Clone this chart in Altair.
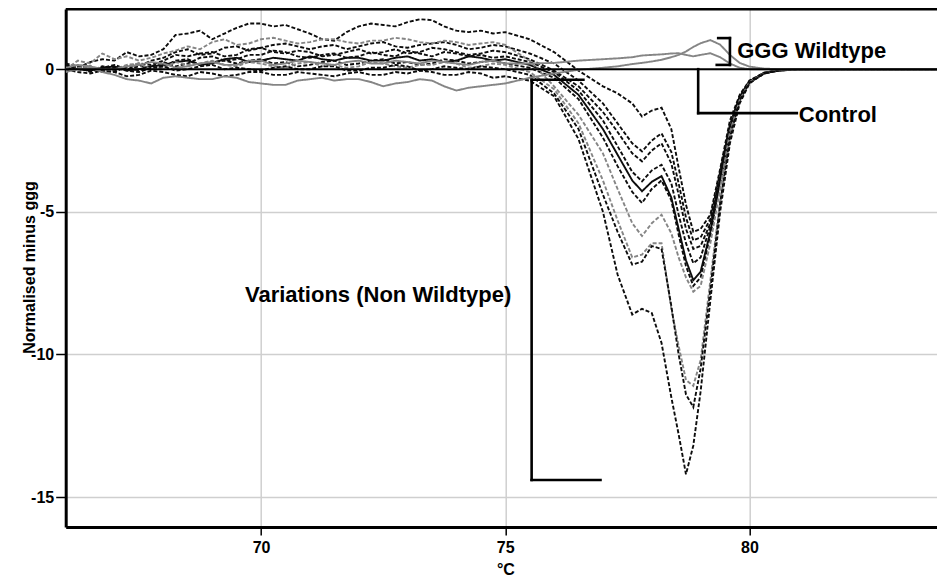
import altair as alt
import pandas as pd

# Temperature grid (°C) shared by every trace
T = [66.0, 66.25, 66.5, 66.75, 67.0, 67.25, 67.5, 67.75, 68.0, 68.25, 68.5, 68.75, 69.0, 69.25, 69.5, 69.75,
     70.0, 70.25, 70.5, 70.75, 71.0, 71.25, 71.5, 71.75, 72.0, 72.25, 72.5, 72.75, 73.0, 73.25, 73.5, 73.75,
     74.0, 74.25, 74.5, 74.75, 75.0,
     75.5, 76.0, 76.5, 77.0, 77.3, 77.6, 77.8, 78.0, 78.2, 78.4, 78.55, 78.7, 78.85, 79.0, 79.2, 79.4, 79.6, 79.8,
     80.0, 80.3, 80.6, 81.0, 82.0, 83.0, 84.0]

# Variations (non wildtype)
V1 = [0.1, 0.05, 0.25, 0.35, 0.3, 0.6, 0.45, 0.5, 0.7, 1.2, 1.25, 1.35, 1.05, 1.25, 1.45, 1.6, 1.6, 1.5, 1.55,
      1.4, 1.25, 1.05, 1.0, 1.3, 1.5, 1.6, 1.55, 1.5, 1.65, 1.75, 1.72, 1.5, 1.35, 1.3, 1.35, 1.25, 1.3,
      1.05, 0.6, -0.05, -0.6, -0.85, -1.2, -1.66, -1.45, -1.35, -2.1, -3.45, -4.75, -5.7, -5.6, -5.1, -3.5, -1.8, -0.9,
      -0.4, -0.12, -0.04, 0.0, 0.0, 0.0, 0.0]
V2 = [0.0, 0.1, -0.1, 0.05, 0.15, 0.0, 0.1, 0.3, 0.4, 0.6, 0.7, 0.5, 0.55, 0.75, 0.8, 0.65, 0.75, 0.85, 0.9,
      0.8, 0.7, 0.8, 0.85, 0.7, 0.8, 0.9, 0.95, 0.8, 0.75, 0.85, 0.9, 0.95, 0.85, 0.7, 0.75, 0.85, 0.8,
      0.55, 0.2, -0.4, -1.2, -1.9, -2.6, -2.88, -2.5, -2.25, -2.9, -4.0, -5.2, -6.0, -5.9, -5.25, -3.6, -1.95, -0.95,
      -0.42, -0.13, -0.04, 0.0, 0.0, 0.0, 0.0]
V3 = [0.15, 0.05, 0.0, -0.05, -0.1, 0.1, 0.2, 0.15, 0.3, 0.5, 0.45, 0.55, 0.6, 0.45, 0.5, 0.7, 0.75, 0.6, 0.55,
      0.65, 0.6, 0.45, 0.5, 0.6, 0.7, 0.55, 0.6, 0.7, 0.55, 0.6, 0.75, 0.7, 0.6, 0.5, 0.55, 0.65, 0.6,
      0.35, -0.05, -0.6, -1.5, -2.2, -2.95, -3.23, -2.85, -2.6, -3.3, -4.4, -5.6, -6.3, -6.2, -5.4, -3.7, -2.0, -1.0,
      -0.43, -0.13, -0.04, 0.0, 0.0, 0.0, 0.0]
V4 = [-0.1, 0.05, 0.1, -0.05, 0.05, 0.1, -0.05, 0.1, 0.25, 0.1, 0.2, 0.4, 0.45, 0.3, 0.35, 0.5, 0.5, 0.65, 0.6,
      0.45, 0.4, 0.5, 0.55, 0.4, 0.45, 0.6, 0.5, 0.45, 0.65, 0.55, 0.45, 0.6, 0.55, 0.45, 0.5, 0.4, 0.45,
      0.25, -0.1, -0.75, -1.8, -2.7, -3.6, -3.93, -3.55, -3.35, -4.0, -5.1, -6.1, -6.8, -6.6, -5.5, -3.8, -2.05, -1.0,
      -0.44, -0.14, -0.04, 0.0, 0.0, 0.0, 0.0]
V5 = [0.05, 0.0, -0.05, 0.05, 0.1, -0.05, 0.0, 0.1, 0.15, 0.25, 0.3, 0.15, 0.2, 0.35, 0.4, 0.25, 0.3, 0.4, 0.35,
      0.3, 0.45, 0.35, 0.3, 0.4, 0.4, 0.3, 0.3, 0.4, 0.45, 0.3, 0.35, 0.25, 0.3, 0.45, 0.4, 0.3, 0.35,
      0.15, -0.2, -0.9, -2.1, -3.0, -3.9, -4.28, -3.95, -3.75, -4.5, -5.6, -6.7, -7.4, -7.1, -5.7, -3.9, -2.1, -1.05,
      -0.45, -0.14, -0.04, 0.0, 0.0, 0.0, 0.0]
V6 = [0.2, 0.1, 0.05, -0.1, -0.05, 0.1, 0.15, 0.0, 0.1, 0.3, 0.35, 0.15, 0.25, 0.3, 0.2, 0.3, 0.35, 0.2, 0.25,
      0.1, 0.15, 0.25, 0.3, 0.15, 0.2, 0.3, 0.35, 0.2, 0.25, 0.15, 0.2, 0.35, 0.3, 0.2, 0.25, 0.3, 0.2,
      0.05, -0.3, -1.05, -2.4, -3.4, -4.3, -4.69, -4.2, -3.9, -4.6, -5.8, -6.9, -7.6, -7.3, -5.8, -4.0, -2.15, -1.05,
      -0.45, -0.14, -0.04, 0.0, 0.0, 0.0, 0.0]
V7 = [0.0, 0.3, 0.2, 0.55, 0.35, 0.45, 0.3, 0.4, 0.55, 0.65, 0.8, 0.7, 0.95, 1.05, 0.85, 0.9, 1.05, 1.1, 1.0,
      0.9, 0.95, 1.05, 1.05, 0.95, 0.9, 1.0, 1.0, 1.1, 1.05, 0.95, 0.9, 1.0, 0.95, 0.85, 0.9, 0.95, 0.85,
      0.3, -0.6, -1.6, -2.95, -4.2, -5.4, -5.85, -5.4, -5.1, -5.75, -6.6, -7.3, -7.8, -7.6, -6.1, -4.2, -2.2, -1.1,
      -0.46, -0.15, -0.05, 0.0, 0.0, 0.0, 0.0]
V8 = [-0.05, 0.05, 0.1, -0.05, 0.0, 0.15, 0.2, 0.0, 0.05, 0.25, 0.15, 0.2, 0.3, 0.15, 0.1, 0.25, 0.2, 0.1, 0.05,
      0.2, 0.25, 0.1, 0.15, 0.05, 0.1, 0.25, 0.2, 0.1, 0.05, 0.15, 0.15, 0.25, 0.2, 0.05, 0.1, 0.2, 0.15,
      -0.1, -0.7, -1.9, -3.9, -5.3, -6.6, -6.5, -6.1, -6.1, -8.4, -9.7, -10.9, -11.1, -10.2, -7.4, -4.6, -2.35, -1.1,
      -0.47, -0.15, -0.05, 0.0, 0.0, 0.0, 0.0]
V9 = [0.1, 0.0, -0.05, 0.1, 0.05, -0.05, -0.1, 0.05, 0.1, -0.05, 0.0, 0.1, 0.15, 0.0, 0.05, 0.0, -0.05, 0.05, 0.1,
      0.0, 0.0, 0.1, 0.1, -0.05, -0.05, 0.05, 0.05, 0.15, 0.1, -0.05, 0.0, 0.1, 0.05, 0.0, 0.1, 0.05, 0.0,
      -0.2, -0.85, -2.1, -4.4, -5.7, -6.85, -6.75, -6.2, -6.3, -8.3, -10.0, -11.4, -11.85, -10.5, -7.7, -4.7, -2.4, -1.1,
      -0.47, -0.15, -0.05, 0.0, 0.0, 0.0, 0.0]
V10 = [0.0, -0.1, -0.15, -0.05, -0.1, -0.25, -0.2, -0.05, -0.1, -0.2, -0.25, -0.1, -0.15, -0.25, -0.2, -0.1, -0.1,
       -0.2, -0.2, -0.1, -0.15, -0.2, -0.25, -0.15, -0.1, -0.2, -0.2, -0.1, -0.15, -0.05, -0.1, -0.2, -0.2, -0.1,
       -0.15, -0.3, -0.25,
       -0.4, -0.95, -2.45, -5.0, -7.2, -8.6, -8.4, -8.55, -9.6, -11.5, -12.8, -14.2, -13.2, -11.3, -8.1, -5.0, -2.6, -1.2,
       -0.5, -0.15, -0.05, 0.0, 0.0, 0.0, 0.0]

# GGG wildtype
WT1 = [-0.1, 0.0, 0.05, -0.1, -0.2, -0.35, -0.4, -0.5, -0.3, -0.25, -0.3, -0.35, -0.35, -0.25, -0.3, -0.45, -0.5,
       -0.55, -0.55, -0.4, -0.35, -0.3, -0.4, -0.35, -0.35, -0.45, -0.6, -0.5, -0.45, -0.35, -0.4, -0.6, -0.75,
       -0.65, -0.6, -0.55, -0.5,
       -0.3, -0.15, -0.02, 0.05, 0.1, 0.18, 0.22, 0.27, 0.33, 0.42, 0.5, 0.62, 0.78, 0.91, 1.02, 0.86, 0.5, 0.22,
       0.09, 0.02, 0.0, 0.0, 0.0, 0.0, 0.0]
WT2 = [0.05, 0.15, 0.1, 0.0, 0.0, 0.1, 0.15, 0.25, 0.2, 0.05, 0.1, 0.2, 0.25, 0.15, 0.15, 0.3, 0.3, 0.15, 0.2,
       0.3, 0.25, 0.2, 0.15, 0.25, 0.3, 0.2, 0.2, 0.3, 0.25, 0.2, 0.3, 0.25, 0.2, 0.15, 0.25, 0.3, 0.2,
       0.2, 0.22, 0.3, 0.35, 0.38, 0.42, 0.48, 0.5, 0.52, 0.55, 0.56, 0.5, 0.45, 0.5, 0.56, 0.42, 0.2, 0.05,
       0.0, 0.0, 0.0, 0.0, 0.0, 0.0, 0.0]

# Control
CONTROL = [0.0, 0.0, 0.0, 0.0, 0.0, 0.0, 0.0, 0.0, 0.0, 0.0, 0.0, 0.0, 0.0, 0.0, 0.0, 0.0, 0.0, 0.0, 0.0,
           0.0, 0.0, 0.0, 0.0, 0.0, 0.0, 0.0, 0.0, 0.0, 0.0, 0.0, 0.0, 0.0, 0.0, 0.0, 0.0, 0.0, 0.0,
           0.0, 0.0, 0.0, 0.0, 0.0, 0.0, 0.0, 0.0, 0.0, 0.0, 0.0, 0.0, 0.0, 0.0, 0.0, 0.0, 0.0, 0.0,
           0.0, 0.0, 0.0, 0.0, 0.0, 0.0, 0.0]

SERIES = {"V1": V1, "V2": V2, "V3": V3, "V4": V4, "V5": V5, "V6": V6, "V7": V7, "V8": V8, "V9": V9,
          "V10": V10, "WT1": WT1, "WT2": WT2, "Control": CONTROL}

# Annotation brackets (data coordinates) and labels
BRACKETS = [
    (75.54, -0.37, 75.54, -14.4), (75.54, -0.37, 76.6, -0.37), (75.54, -14.4, 76.95, -14.4),
    (78.95, 0.0, 78.95, -1.54), (78.95, -1.54, 80.97, -1.54),
    (79.6, 1.09, 79.6, 0.15), (79.36, 1.09, 79.6, 1.09), (79.33, 0.15, 79.6, 0.15),
]
LABELS = [("GGG Wildtype", 79.75, 0.64), ("Control", 81.01, -1.6), ("Variations (Non Wildtype)", 69.67, -7.9)]

X_TICKS = [70, 75, 80]
Y_TICKS = [0, -5, -10, -15]

# ---- styles ----
names = list(SERIES.keys())
BLACK = "#0d0d0d"
GREY = "#858585"
color_range = [BLACK, BLACK, BLACK, BLACK, BLACK, BLACK, GREY, GREY, BLACK, BLACK, GREY, GREY, "#000000"]
dash_range = [[4, 2], [4, 2], [4, 2], [4, 2], [1, 0], [4, 2], [4, 2], [4, 2], [4, 2], [4, 2], [1, 0], [1, 0], [1, 0]]
width_range = [1.9, 1.9, 1.9, 1.9, 1.9, 1.9, 1.6, 1.6, 1.9, 1.9, 1.4, 1.4, 2.5]

rows = []
for name, vals in SERIES.items():
    for t, v in zip(T, vals):
        rows.append({"T": t, "v": v, "series": name, "order": names.index(name)})
df = pd.DataFrame(rows)

FONT = "Liberation Sans"
X_DOMAIN = [66, 83.84]
Y_DOMAIN = [-16.05, 2.11]

xscale = alt.Scale(domain=X_DOMAIN, nice=False, zero=False)
yscale = alt.Scale(domain=Y_DOMAIN, nice=False, zero=False)

lines = alt.Chart(df).mark_line(clip=True).encode(
    x=alt.X("T:Q", scale=xscale, axis=alt.Axis(
        values=X_TICKS, labelExpr="'' + datum.value", title="°C", grid=True, gridColor="#cfcfcf", gridWidth=1.5,
        domainColor="black", domainWidth=3, tickColor="black", tickWidth=1.5, tickSize=8,
        labelFont=FONT, labelFontSize=16, labelFontWeight="bold", labelColor="black", labelPadding=4,
        titleFont=FONT, titleFontSize=16, titleFontWeight="bold", titleColor="black",
        titleX=439.7, titleY=47, titleBaseline="alphabetic")),
    y=alt.Y("v:Q", scale=yscale, axis=alt.Axis(
        values=Y_TICKS, labelExpr="'' + datum.value", title="Normalised minus ggg", grid=True,
        gridColor="#cfcfcf", gridWidth=1.5,
        domainColor="black", domainWidth=3, tickColor="black", tickWidth=1.5, tickSize=10,
        labelFont=FONT, labelFontSize=16, labelFontWeight="bold", labelColor="black", labelPadding=2,
        titleFont=FONT, titleFontSize=16, titleFontWeight="bold", titleColor="black",
        titleAngle=270, titleX=-30.7, titleY=258, titleBaseline="alphabetic")),
    color=alt.Color("series:N", scale=alt.Scale(domain=names, range=color_range), legend=None),
    strokeDash=alt.StrokeDash("series:N", scale=alt.Scale(domain=names, range=dash_range), legend=None),
    strokeWidth=alt.StrokeWidth("series:N", scale=alt.Scale(domain=names, range=width_range), legend=None),
    detail="series:N",
    order="order:Q",
)

top_border = alt.Chart(pd.DataFrame({"y": [Y_DOMAIN[1]]})).mark_rule(color="black", strokeWidth=3).encode(
    y=alt.Y("y:Q", scale=yscale)
)

bdf = pd.DataFrame(BRACKETS, columns=["x1", "y1", "x2", "y2"])
brackets = alt.Chart(bdf).mark_rule(color="black", strokeWidth=2.6, strokeCap="square").encode(
    x=alt.X("x1:Q", scale=xscale), y=alt.Y("y1:Q", scale=yscale), x2="x2:Q", y2="y2:Q"
)

ldf = pd.DataFrame(LABELS, columns=["text", "x", "y"])
labels = alt.Chart(ldf).mark_text(align="left", baseline="middle", font=FONT, fontSize=22,
                                  fontWeight="bold", color="black").encode(
    x=alt.X("x:Q", scale=xscale), y=alt.Y("y:Q", scale=yscale), text="text:N"
)

chart = alt.layer(lines, brackets, labels, top_border).properties(
    width=871.3, height=518,
    padding={"left": 57.7, "top": 1, "right": 0, "bottom": 52},
    autosize=alt.AutoSizeParams(type="none"),
    background="white",
).configure_view(stroke=None)

chart.save("out.html", embed_options={"renderer": "svg", "actions": False})
